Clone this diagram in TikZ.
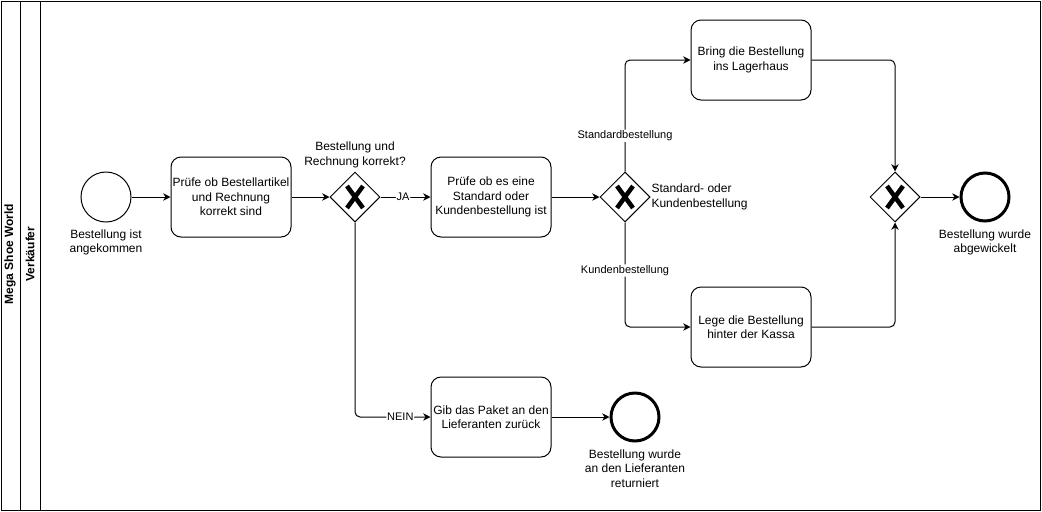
\documentclass[tikz,border=0pt]{standalone}
\usepackage{fontspec}
\setmainfont{Liberation Sans}
\usetikzlibrary{shapes.geometric,arrows.meta}

\tikzset{every picture/.style={line width=0.75pt}}
\tikzset{
  task/.style={draw,rounded corners=7.5pt,minimum width=90pt,minimum height=60pt,align=center,inner sep=0.75pt,font=\fontsize{9}{10.8}\selectfont},
  startevt/.style={draw,circle,minimum size=37.5pt,inner sep=0pt},
  endevt/.style={draw,circle,line width=2.25pt,minimum size=36pt,inner sep=0pt},
  xgate/.style={draw,diamond,minimum width=37.5pt,minimum height=37.5pt,inner sep=0pt},
  evlabel/.style={align=center,inner sep=0.75pt,font=\fontsize{9}{10.8}\selectfont},
  flow/.style={-{Stealth[length=5.5pt,width=5.5pt]},rounded corners=3.75pt},
  flowlabel/.style={fill=white,inner sep=0.75pt,font=\fontsize{8.25}{9.9}\selectfont},
}

\begin{document}
\begin{tikzpicture}[x=0.75pt,y=0.75pt,yscale=-1,xscale=1]
\useasboundingbox (0,0) rectangle (1042,511);
%Shape: Pool and lane
\draw   (1,1) rectangle (1040,510) ;
\draw    (20,1) -- (20,510) ;
\draw    (40,1) -- (40,510) ;
% Text Node
\draw (10,254) node [rotate=90][inner sep=0.75pt]  [font=\fontsize{9}{10.8}\selectfont\bfseries]  {Mega Shoe World};
% Text Node
\draw (30,254) node [rotate=90][inner sep=0.75pt]  [font=\fontsize{9}{10.8}\selectfont\bfseries]  {Verkäufer};

%Shape: Circle
\draw (106,197) node [startevt] (start) {};
\draw (106,228) node [anchor=north][evlabel] (startlbl) {Bestellung ist\\angekommen};
%Shape: Rounded Rect
\draw (231,197) node [task] (check) {Prüfe ob Bestellartikel\\und Rechnung\\korrekt sind};
%Shape: Diamond
\draw (355,197) node [xgate] (gw1) {};
\draw (355,169) node [anchor=south][evlabel] (gw1lbl) {Bestellung und\\Rechnung korrekt?};
%Shape: Rounded Rect
\draw (491,197) node [task] (kind) {Prüfe ob es eine\\Standard oder\\Kundenbestellung ist};
%Shape: Diamond
\draw (625,197) node [xgate] (gw2) {};
\draw (650,197) node [anchor=west][evlabel,align=left] (gw2lbl) {Standard- oder\\Kundenbestellung};
%Shape: Rounded Rect
\draw (751,60) node [task] (store) {Bring die Bestellung\\ins Lagerhaus};
%Shape: Rounded Rect
\draw (751,327) node [task] (till) {Lege die Bestellung\\hinter der Kassa};
%Shape: Diamond
\draw (895,197) node [xgate] (gw3) {};
%Shape: Circle
\draw (985,197) node [endevt] (done) {};
\draw (985,228) node [anchor=north][evlabel] (donelbl) {Bestellung wurde\\abgewickelt};
%Shape: Rounded Rect
\draw (491,417) node [task] (back) {Gib das Paket an den\\Lieferanten zurück};
%Shape: Circle
\draw (635,417) node [endevt] (returned) {};
\draw (635,448) node [anchor=north][evlabel] (returnedlbl) {Bestellung wurde\\an den Lieferanten\\returniert};

%Shape: Gateway crosses
\foreach \g in {gw1,gw2,gw3}{
  \draw [line width=3.4pt] (\g.center) ++(-8,-11) -- ++(16,22) ;
  \draw [line width=3.4pt] (\g.center) ++(8,-11) -- ++(-16,22) ;
}

%Straight Lines
\draw [flow]   (start) -- (check) ;
\draw [flow]   (check) -- (gw1) ;
\draw [flow]   (gw1) -- node [flowlabel,pos=0.45] {JA} (kind) ;
\draw [flow]   (gw1.south) |- node [flowlabel,pos=0.8] {NEIN} (back) ;
\draw [flow]   (kind) -- (gw2) ;
\draw [flow]   (gw2.north) |- node [flowlabel,pos=0.16] {Standardbestellung} (store) ;
\draw [flow]   (gw2.south) |- node [flowlabel,pos=0.23] {Kundenbestellung} (till) ;
\draw [flow]   (store.east) -| (gw3.north) ;
\draw [flow]   (till.east) -| (gw3.south) ;
\draw [flow]   (gw3) -- (done) ;
\draw [flow]   (back) -- (returned) ;
\end{tikzpicture}
\end{document}
